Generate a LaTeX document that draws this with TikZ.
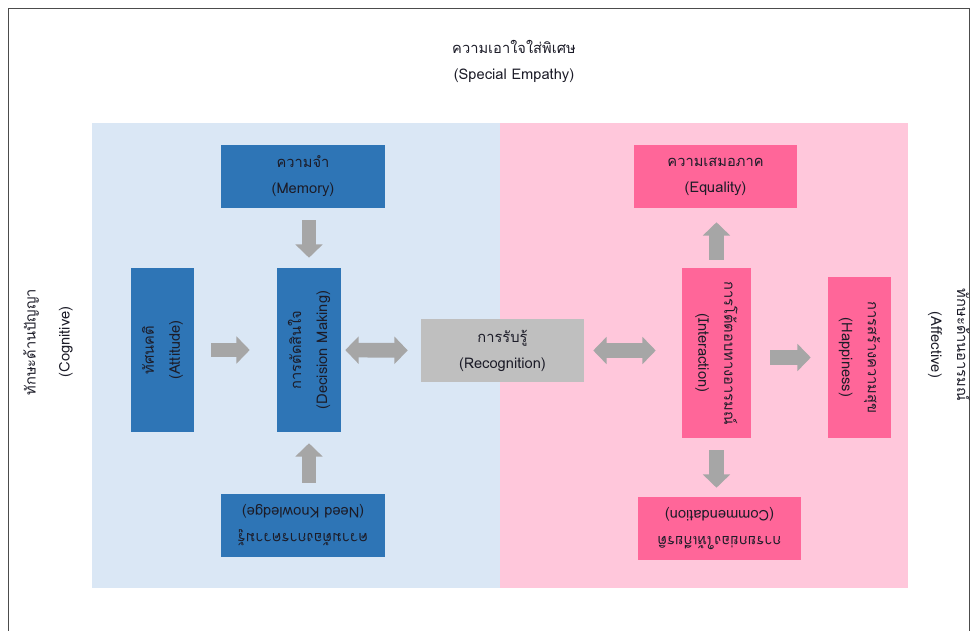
\documentclass[tikz,border=0pt]{standalone}
\usepackage{fontspec}
\setmainfont{Loma}[Script=Thai]
\usepackage{tikz}
\usetikzlibrary{arrows.meta}

\definecolor{bgblue}{HTML}{DAE7F5}
\definecolor{bgpink}{HTML}{FFC7DB}
\definecolor{boxblue}{HTML}{2E75B6}
\definecolor{boxpink}{HTML}{FF6699}
\definecolor{boxgray}{HTML}{BFBFBF}
\definecolor{arrowgray}{HTML}{A6A6A6}
\definecolor{textdark}{HTML}{1C1C28}

\begin{document}
\begin{tikzpicture}[x=0.75pt, y=-0.75pt,
    txt/.style = {align=center, text=textdark, inner sep=0pt, font=\fontsize{11}{19.5}\selectfont},
    box/.style = {inner sep=0pt},
    wide/.style = {box, minimum width=123pt, minimum height=47.25pt},
    blk/.style = {draw=arrowgray, line width=11pt, -{Triangle[length=10pt,width=20pt]}},
    dblk/.style = {draw=arrowgray, line width=11pt, {Triangle[length=10pt,width=20pt]}-{Triangle[length=10pt,width=20pt]}}]
        \useasboundingbox (0,0) rectangle (975,631);
        \draw[black!70] (8,631)--(8,8)--(969,8)--(969,631);
        \fill[bgblue] (92,123) rectangle (500,588);
        \fill[bgpink] (500,123) rectangle (908,588);
        \node[txt] (title) at (514,61) {ความเอาใจใส่พิเศษ\\(Special Empathy)};
        \node[txt, rotate=90] (cog) at (48,342) {ทักษะด้านปัญญา\\[6pt](Cognitive)};
        \node[txt, rotate=-90] (aff) at (949,345) {ทักษะด้านอารมณ์\\(Affective)};

        \node[wide, fill=boxblue] (mem) at (303,176.5) {};
        \node[box, fill=boxblue, minimum width=47.25pt, minimum height=123pt] (att) at (162.5,350) {};
        \node[box, fill=boxblue, minimum width=48pt, minimum height=123pt] (dec) at (309,350) {};
        \node[wide, fill=boxblue] (need) at (303,525.5) {};
        \node[box, fill=boxgray, minimum width=122.25pt, minimum height=47.25pt] (rec) at (502.5,350.5) {};
        \node[box, fill=boxpink, minimum width=122.25pt, minimum height=47.25pt] (eq) at (715.5,176.5) {};
        \node[box, fill=boxpink, minimum width=51.75pt, minimum height=127.5pt] (int) at (716.5,353) {};
        \node[box, fill=boxpink, minimum width=47.25pt, minimum height=120.75pt] (hap) at (859.5,357.5) {};
        \node[box, fill=boxpink, minimum width=122.25pt, minimum height=47.25pt] (com) at (719.5,528.5) {};

        \node[txt] (mem-t) at (mem) {ความจำ\\(Memory)};
        \node[txt, rotate=90] (att-t) at (att) {ทัศนคติ\\(Attitude)};
        \node[txt, rotate=90] (dec-t) at (dec) {การตัดสินใจ\\(Decision Making)};
        \node[txt, rotate=180] (need-t) at (need) {ความต้องการความรู้\\(Need Knowledge)};
        \node[txt] (rec-t) at (rec) {การรับรู้\\(Recognition)};
        \node[txt] (eq-t) at (eq) {ความเสมอภาค\\(Equality)};
        \node[txt, rotate=-90] (int-t) at (int) {การโต้ตอบทางอารมณ์\\(Interaction)};
        \node[txt, rotate=-90] (hap-t) at (hap) {การสร้างความสุข\\(Happiness)};
        \node[txt, rotate=180] (com-t) at (com) {การยกย่องให้เกียรติ\\(Commendation)};

        \draw[blk, shorten <=9pt, shorten >=7.5pt] (dec.north |- mem.south) -- (dec.north);
        \draw[blk, shorten <=8.25pt, shorten >=8.25pt] (dec.south |- need.north) -- (dec.south);
        \draw[blk, shorten <=12.75pt, shorten >=20.25pt] (att.east) -- (dec.west);
        \draw[dblk, shorten <=3pt, shorten >=9.75pt] (dec.east) -- (rec.west);
        \draw[dblk, shorten <=6.75pt, shorten >=19.5pt] (rec.east) -- (int.west |- rec.east);
        \draw[blk, shorten <=6pt, shorten >=10.5pt] (int.north) -- (int.north |- eq.south);
        \draw[blk, shorten <=9pt, shorten >=6.75pt] (int.south) -- (int.south |- com.north);
        \draw[blk, shorten <=14.25pt, shorten >=12.75pt] (int.east |- hap.west) -- (hap.west);
    \end{tikzpicture}
\end{document}
